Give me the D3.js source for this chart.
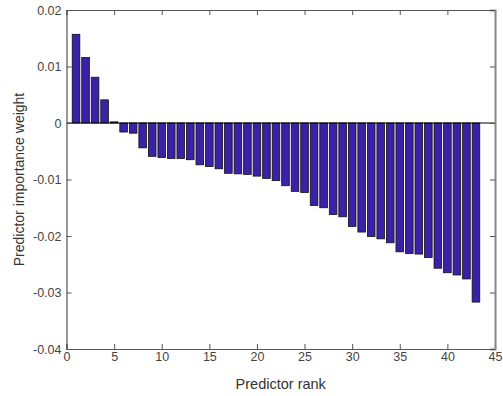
<!DOCTYPE html>
<html>
<head>
<meta charset="utf-8">
<script src="https://cdn.jsdelivr.net/npm/d3@7"></script>
<style>
  body { margin: 0; background: #fff; }
  text { font-family: "Liberation Sans", Arial, sans-serif; }
</style>
</head>
<body>
<div id="chart"></div>
<script>
// predictor importance weights, ranked 1..43
const ranks = d3.range(1, 44);
const weights = [
  0.0157, 0.0116, 0.0081, 0.0041, 0.0002, -0.0016, -0.0018, -0.0044, -0.0059, -0.0061,
  -0.0063, -0.0063, -0.0065, -0.0074, -0.0077, -0.0081, -0.0089, -0.0090, -0.0091, -0.0094,
  -0.0098, -0.0102, -0.0111, -0.0121, -0.0123, -0.0146, -0.0150, -0.0162, -0.0166, -0.0183,
  -0.0193, -0.0201, -0.0205, -0.0212, -0.0228, -0.0231, -0.0232, -0.0238, -0.0257, -0.0265,
  -0.0269, -0.0276, -0.0317
];
const xTicks = [0, 5, 10, 15, 20, 25, 30, 35, 40, 45];
const yTicks = [0.02, 0.01, 0, -0.01, -0.02, -0.03, -0.04];

const width = 503, height = 396;
const margin = { top: 10, left: 66.5, right: 8, bottom: 47 };
const iwidth = width - margin.left - margin.right;
const iheight = height - margin.top - margin.bottom;

const svg = d3.select("#chart").append("svg")
  .attr("width", width)
  .attr("height", height);

const g = svg.append("g")
  .attr("transform", `translate(${margin.left},${margin.top})`);

const x = d3.scaleLinear().domain([0, 45]).range([0, iwidth]);
const y = d3.scaleLinear().domain([-0.04, 0.02]).range([iheight, 0]);
const bw = (x(1) - x(0)) * 0.8;

// bars
g.selectAll("rect.bar")
  .data(weights)
  .enter()
  .append("rect")
  .attr("class", "bar")
  .attr("x", (d, i) => x(ranks[i]) - bw / 2)
  .attr("y", d => y(Math.max(0, d)))
  .attr("width", bw)
  .attr("height", d => Math.abs(y(d) - y(0)))
  .style("fill", "#3a22a6")
  .style("stroke", "#111")
  .style("stroke-width", 0.8);

// baseline
g.append("line")
  .attr("x1", 0).attr("x2", iwidth)
  .attr("y1", y(0)).attr("y2", y(0))
  .style("stroke", "#000").style("stroke-width", 1);

const axisColor = "#555";
const textColor = "#444";

// bottom axis with inward ticks
const xAxis = g.append("g")
  .attr("transform", `translate(0,${iheight})`)
  .call(d3.axisBottom(x).tickValues(xTicks).tickSize(-5).tickPadding(3));
// top ticks
const xTop = g.append("g")
  .call(d3.axisTop(x).tickValues(xTicks).tickSize(-5).tickFormat(""));
// left axis
const yAxis = g.append("g")
  .call(d3.axisLeft(y).tickValues(yTicks).tickSize(-5).tickPadding(5)
    .tickFormat(d => d === 0 ? "0" : d3.format(".2f")(d).replace("−", "-")));
// right ticks
const yRight = g.append("g")
  .attr("transform", `translate(${iwidth},0)`)
  .call(d3.axisRight(y).tickValues(yTicks).tickSize(-5).tickFormat(""));

[xAxis, xTop, yAxis, yRight].forEach(a => {
  a.selectAll("path").style("stroke", axisColor).style("stroke-width", 1.2);
  a.selectAll("line").style("stroke", axisColor);
  a.selectAll("text").style("fill", textColor).style("font-size", "12.5px");
});
yRight.select("path").style("stroke", "#888").style("stroke-width", 2);

// axis titles
svg.append("text")
  .attr("x", margin.left + iwidth / 2)
  .attr("y", 389)
  .attr("text-anchor", "middle")
  .style("font-size", "14.5px")
  .style("fill", "#333")
  .text("Predictor rank");

svg.append("text")
  .attr("transform", `translate(24,${margin.top + iheight / 2}) rotate(-90)`)
  .attr("text-anchor", "middle")
  .style("font-size", "14px")
  .style("fill", "#333")
  .text("Predictor importance weight");
</script>
</body>
</html>
